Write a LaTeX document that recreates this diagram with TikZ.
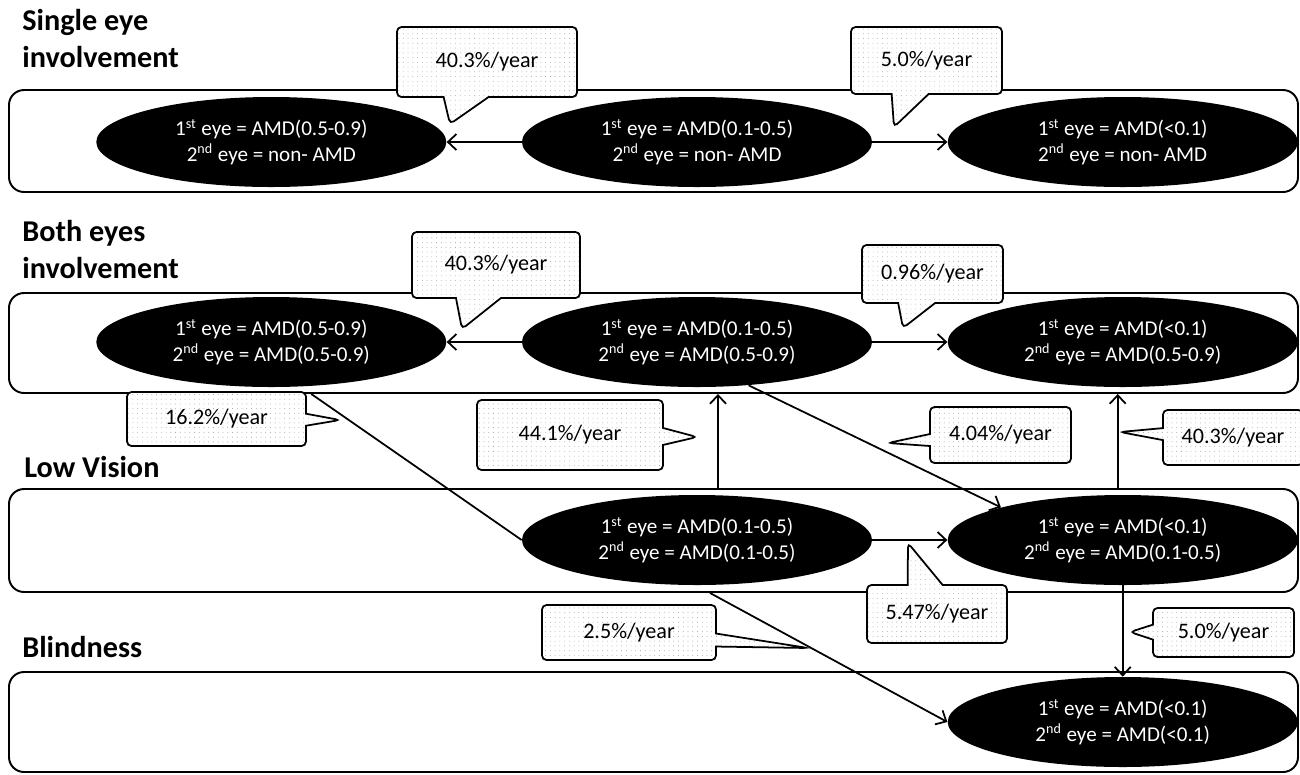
\documentclass[tikz,border=0pt]{standalone}
\usepackage{fontspec}
\setmainfont{Carlito}
\usetikzlibrary{positioning,arrows.meta,shapes.geometric,shapes.callouts,patterns.meta,calc}

\begin{document}
\begin{tikzpicture}[
  x=0.2mm, y=-0.2mm,
  font=\fontsize{12}{14.5}\selectfont, >={Straight Barb[length=1.7mm,width=3.2mm]},
  lane/.style={draw, line width=1.1pt, rounded corners=3mm, minimum width=257.8mm,
               inner sep=0},
  heading/.style={font=\fontsize{17.2}{21}\selectfont\bfseries, align=left,
                  anchor=base west, inner sep=0},
  state/.style={ellipse, fill=black, text=white, align=center, minimum width=70mm,
                minimum height=18mm, inner sep=0},
  rate/.style={rectangle callout, draw, line width=1pt, rounded corners=0.9mm,
               font=\fontsize{12.6}{15}\selectfont,
               preaction={fill=white}, pattern={Dots[radius=0.25pt,distance=2.7pt]},
               pattern color=gray!80, inner sep=0},
  flow/.style={->, line width=1pt},
]
\useasboundingbox (0,0) rectangle (1300,774);
% headings and lanes
\node[heading] (h1) at (22,67) {Single eye\\involvement};
\node[heading] (h2) at (22,278) {Both eyes\\involvement};
\node[heading] (h3) at (24,477) {Low Vision};
\node[heading] (h4) at (22,657) {Blindness};
\node[lane, minimum height=20.4mm] (lane1) at (653.5,141) {};
\node[lane, minimum height=20mm] (lane2) at (653.5,343) {};
\node[lane, minimum height=20.6mm] (lane3) at (653.5,540.5) {};
\node[lane, minimum height=20mm] (lane4) at (653.5,722) {};
% single eye involvement
\node[state] (se2) at (697,142)
  {1\textsuperscript{st} eye = AMD(0.1-0.5)\\2\textsuperscript{nd} eye = non- AMD};
\node[state, left=15mm of se2] (se1)
  {1\textsuperscript{st} eye = AMD(0.5-0.9)\\2\textsuperscript{nd} eye = non- AMD};
\node[state, right=15mm of se2] (se3)
  {1\textsuperscript{st} eye = AMD(<0.1)\\2\textsuperscript{nd} eye = non- AMD};
% both eyes involvement
\node[state] (be2) at (697,342)
  {1\textsuperscript{st} eye = AMD(0.1-0.5)\\2\textsuperscript{nd} eye = AMD(0.5-0.9)};
\node[state, left=15mm of be2] (be1)
  {1\textsuperscript{st} eye = AMD(0.5-0.9)\\2\textsuperscript{nd} eye = AMD(0.5-0.9)};
\node[state, right=15mm of be2] (be3)
  {1\textsuperscript{st} eye = AMD(<0.1)\\2\textsuperscript{nd} eye = AMD(0.5-0.9)};
% low vision and blindness
\node[state] (lv1) at (697,540)
  {1\textsuperscript{st} eye = AMD(0.1-0.5)\\2\textsuperscript{nd} eye = AMD(0.1-0.5)};
\node[state, right=15mm of lv1] (lv2)
  {1\textsuperscript{st} eye = AMD(<0.1)\\2\textsuperscript{nd} eye = AMD(0.1-0.5)};
\node[state] (bl1) at (lv2 |- lane4)
  {1\textsuperscript{st} eye = AMD(<0.1)\\2\textsuperscript{nd} eye = AMD(<0.1)};
% flows
\draw[flow] (se2) -- (se1);
\draw[flow] (se2) -- (se3);
\draw[flow] (be2) -- (be1);
\draw[flow] (be2) -- (be3);
\draw[flow] ($(lane3.north -| lv1)+(21,0)$) -- ($(lane2.south -| lv1)+(21,0)$);
\draw[flow] ($(lane3.north -| lv2)+(-5,0)$) -- ($(lane2.south -| lv2)+(-5,0)$);
\draw[flow] (be2.-40) -- (lv2.165);
\draw[flow,-] ($(lane2.south -| be1)+(40,0)$) -- (lv1.west);
\draw[flow] (lv1) -- (lv2);
\draw[flow] (lv2) -- (bl1);
\draw[flow] ($(lane3.south -| lv1)+(13,0)$) -- (bl1.west);
% rates
\node[rate, minimum width=36mm, minimum height=14mm, callout pointer width=9mm,
      callout absolute pointer={(450,124)}] (r1) at (487,62) {40.3\%/year};
\node[rate, minimum width=30.2mm, minimum height=13.4mm, callout pointer width=7.4mm,
      callout absolute pointer={(894,127)}] (r2) at (926.5,60.5) {5.0\%/year};
\node[rate, minimum width=33.6mm, minimum height=13.2mm, callout pointer width=9mm,
      callout absolute pointer={(462,329)}] (r3) at (496,265) {40.3\%/year};
\node[rate, minimum width=28.2mm, minimum height=11.6mm, callout pointer width=7.4mm,
      callout absolute pointer={(903,328)}] (r4) at (932.5,274) {0.96\%/year};
\node[rate, minimum width=35.8mm, minimum height=10.8mm, callout pointer width=2.4mm,
      callout absolute pointer={(340,420)}] (r5) at (216.5,419) {16.2\%/year};
\node[rate, minimum width=37.2mm, minimum height=14mm, callout pointer width=3.4mm,
      callout absolute pointer={(697,437)}] (r6) at (570,435) {44.1\%/year};
\node[rate, minimum width=28.2mm, minimum height=11.2mm, callout pointer width=2.4mm,
      callout absolute pointer={(888,443)}] (r7) at (1000.5,435) {4.04\%/year};
\node[rate, minimum width=28mm, minimum height=11mm, callout pointer width=2.4mm,
      callout absolute pointer={(1120,432)}] (r8) at (1233,437.5) {40.3\%/year};
\node[rate, minimum width=28mm, minimum height=11.6mm, callout pointer width=7mm,
      callout absolute pointer={(908,543)}] (r9) at (937,614) {5.47\%/year};
\node[rate, minimum width=28.2mm, minimum height=9.8mm, callout pointer width=3mm,
      callout absolute pointer={(1130,632)}] (r10) at (1223.5,632.5) {5.0\%/year};
\node[rate, minimum width=34.8mm, minimum height=11mm, callout pointer width=2.6mm,
      callout absolute pointer={(808,648)}] (r11) at (629,632.5) {2.5\%/year};
\end{tikzpicture}
\end{document}
